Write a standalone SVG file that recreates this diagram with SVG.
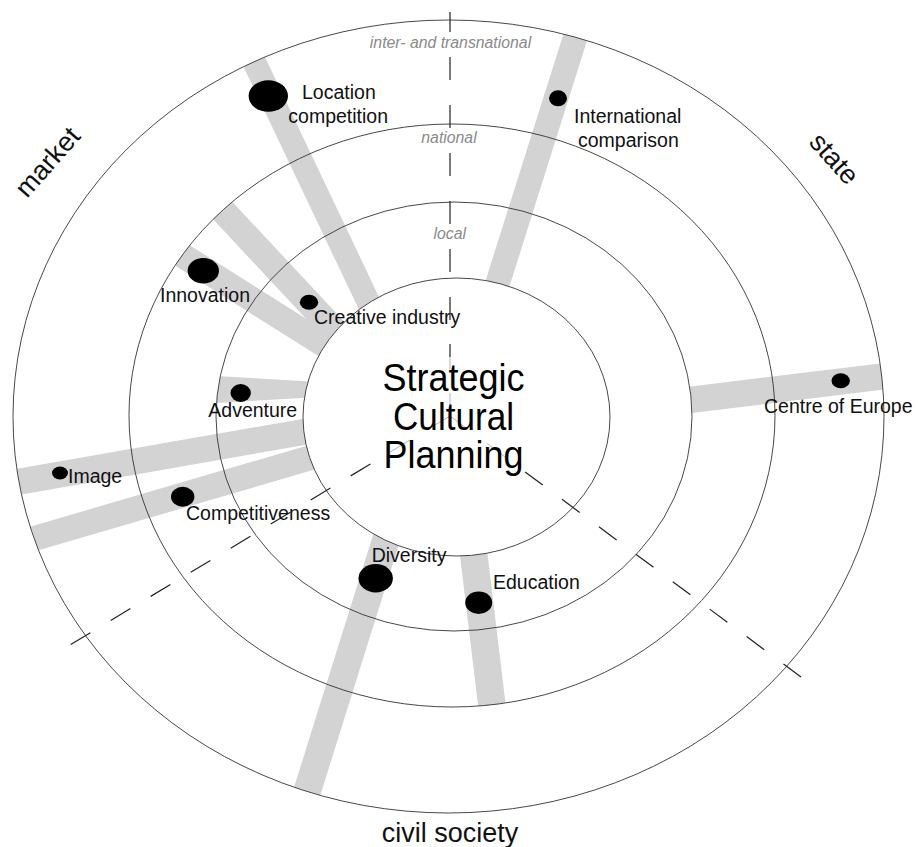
<svg xmlns="http://www.w3.org/2000/svg" width="918" height="847" viewBox="0 0 918 847">
  <style>
    .band { fill: #d3d3d3; }
    .dot { fill: #000; }
    .ring { fill: none; stroke: #333; stroke-width: 0.9; }
    .lbl { font-family: "Liberation Sans", Arial, sans-serif; font-size: 19.5px; fill: #111; }
    .lvl { font-family: "Liberation Sans", Arial, sans-serif; font-size: 15.8px; font-style: italic; fill: #8a8a8a; text-anchor: middle; }
    .sector { font-family: "Liberation Sans", Arial, sans-serif; font-size: 27px; fill: #111; }
    .title { font-family: "Liberation Sans", Arial, sans-serif; font-size: 38px; fill: #000; text-anchor: middle; }
    .axis { stroke: #222; stroke-width: 1.2; fill: none; }
    .axis-in { stroke: #b5b5b5; stroke-width: 1; fill: none; }
  </style>
  <defs>
    <!-- ring regions used to trim the gray bands -->
    <clipPath id="inner-outer">
      <path clip-rule="evenodd" d="M13,416.5 a435.5,396.5 0 1,0 871,0 a435.5,396.5 0 1,0 -871,0 Z M303,417 a153.5,139 0 1,0 307,0 a153.5,139 0 1,0 -307,0 Z"/>
    </clipPath>
    <clipPath id="inner-national">
      <path clip-rule="evenodd" d="M129,415.5 a323,291.5 0 1,0 646,0 a323,291.5 0 1,0 -646,0 Z M303,417 a153.5,139 0 1,0 307,0 a153.5,139 0 1,0 -307,0 Z"/>
    </clipPath>
    <clipPath id="inner-local">
      <path clip-rule="evenodd" d="M216,416.5 a238,214.5 0 1,0 476,0 a238,214.5 0 1,0 -476,0 Z M303,417 a153.5,139 0 1,0 307,0 a153.5,139 0 1,0 -307,0 Z"/>
    </clipPath>
    <clipPath id="local-outer">
      <path clip-rule="evenodd" d="M13,416.5 a435.5,396.5 0 1,0 871,0 a435.5,396.5 0 1,0 -871,0 Z M216,416.5 a238,214.5 0 1,0 476,0 a238,214.5 0 1,0 -476,0 Z"/>
    </clipPath>
  </defs>

  <rect width="918" height="847" fill="#fff"/>

  <!-- bands (drawn first, under the rings) -->
  <g id="bands">
    <line x1="240" y1="32" x2="385" y2="337" stroke="#d3d3d3" stroke-width="23.5" clip-path="url(#inner-outer)"/>
    <line x1="587" y1="0" x2="486" y2="320" stroke="#d3d3d3" stroke-width="24.5" clip-path="url(#inner-outer)"/>
    <line x1="203.5" y1="190" x2="353.8" y2="350.9" stroke="#d3d3d3" stroke-width="26" clip-path="url(#inner-national)"/>
    <line x1="159.5" y1="241" x2="346.5" y2="359" stroke="#d3d3d3" stroke-width="25" clip-path="url(#inner-national)"/>
    <polygon class="band" points="200,375 320,382 320,397 200,404" clip-path="url(#inner-local)"/>
    <line x1="0" y1="485" x2="330" y2="427.4" stroke="#d3d3d3" stroke-width="26" clip-path="url(#inner-outer)"/>
    <line x1="0" y1="548.5" x2="330" y2="452" stroke="#d3d3d3" stroke-width="25" clip-path="url(#inner-outer)"/>
    <line x1="290" y1="846" x2="400" y2="495" stroke="#d3d3d3" stroke-width="27.5" clip-path="url(#inner-outer)"/>
    <line x1="468.6" y1="512" x2="497.4" y2="751" stroke="#d3d3d3" stroke-width="27.5" clip-path="url(#inner-national)"/>
    <line x1="670" y1="402.3" x2="910" y2="373.1" stroke="#d3d3d3" stroke-width="26.5" clip-path="url(#local-outer)"/>
  </g>

  <!-- concentric levels -->
  <g id="rings">
    <ellipse class="ring" cx="448.5" cy="416.5" rx="435.5" ry="396.5"/>
    <ellipse class="ring" cx="452" cy="415.5" rx="323" ry="291.5"/>
    <ellipse class="ring" cx="454" cy="416.5" rx="238" ry="214.5"/>
    <ellipse class="ring" cx="456.5" cy="417" rx="153.5" ry="139"/>
  </g>

  <!-- sector dividers -->
  <g id="connectors">
    <line class="axis-in" x1="450" y1="416" x2="450" y2="357" stroke-dasharray="23 24 12"/>
    <line class="axis" x1="450" y1="357" x2="450" y2="344"/>
    <line class="axis" x1="450" y1="320" x2="450" y2="12" stroke-dasharray="23 25"/>
    <line class="axis-in" x1="450" y1="416" x2="390.1" y2="452.1" stroke-dasharray="23 23.7"/>
    <line class="axis" x1="370.4" y1="464" x2="70" y2="645" stroke-dasharray="23 23.7"/>
    <line class="axis-in" x1="450" y1="416" x2="504.6" y2="456.6" stroke-dasharray="22 24"/>
    <line class="axis" x1="525.1" y1="471.9" x2="801" y2="677" stroke-dasharray="22 24"/>
  </g>

  <!-- level names -->
  <g id="levels">
    <text class="lvl" x="450.5" y="48.3">inter- and transnational</text>
    <text class="lvl" x="449" y="143.3">national</text>
    <text class="lvl" x="449.7" y="239.3">local</text>
  </g>

  <!-- sectors -->
  <g id="sectors">
    <text class="sector" transform="translate(27,199) rotate(-48.5)">market</text>
    <text class="sector" transform="translate(808,143) rotate(48)">state</text>
    <text class="sector" x="450" y="842" text-anchor="middle">civil society</text>
  </g>

  <g id="centre">
    <text class="title" x="453.5" y="391" textLength="142" lengthAdjust="spacingAndGlyphs">Strategic</text>
    <text class="title" x="453.5" y="429.5" textLength="121" lengthAdjust="spacingAndGlyphs">Cultural</text>
    <text class="title" x="453.5" y="468" textLength="140" lengthAdjust="spacingAndGlyphs">Planning</text>
  </g>

  <g id="location-competition">
    <ellipse class="dot" cx="268.3" cy="96" rx="19.7" ry="15.8"/>
    <text class="lbl" x="302" y="99.3">Location</text>
    <text class="lbl" x="288.3" y="123.3">competition</text>
  </g>

  <g id="international-comparison">
    <ellipse class="dot" cx="558" cy="98.3" rx="9" ry="8"/>
    <text class="lbl" x="574" y="123.3">International</text>
    <text class="lbl" x="578" y="146.7">comparison</text>
  </g>

  <g id="innovation">
    <ellipse class="dot" cx="203.3" cy="270.7" rx="15.7" ry="12.8"/>
    <text class="lbl" x="160" y="301.5">Innovation</text>
  </g>

  <g id="creative-industry">
    <ellipse class="dot" cx="309" cy="302.3" rx="9.2" ry="7.5"/>
    <text class="lbl" x="314" y="324">Creative industry</text>
  </g>

  <g id="adventure">
    <ellipse class="dot" cx="240.7" cy="393" rx="10.2" ry="9"/>
    <text class="lbl" x="208.3" y="416.5">Adventure</text>
  </g>

  <g id="image">
    <ellipse class="dot" cx="60" cy="473" rx="8" ry="6.5"/>
    <text class="lbl" x="68" y="483.3">Image</text>
  </g>

  <g id="competitiveness">
    <ellipse class="dot" cx="182.7" cy="496.7" rx="11.7" ry="10"/>
    <text class="lbl" x="186" y="520">Competitiveness</text>
  </g>

  <g id="diversity">
    <ellipse class="dot" cx="375.7" cy="578.3" rx="17.2" ry="14.2"/>
    <text class="lbl" x="371.7" y="561.7">Diversity</text>
  </g>

  <g id="education">
    <ellipse class="dot" cx="478.7" cy="602.7" rx="13.5" ry="11.2"/>
    <text class="lbl" x="493" y="589.3">Education</text>
  </g>

  <g id="centre-of-europe">
    <ellipse class="dot" cx="840.7" cy="380.7" rx="9.2" ry="7.5"/>
    <text class="lbl" x="764" y="413.3">Centre of Europe</text>
  </g>
</svg>
